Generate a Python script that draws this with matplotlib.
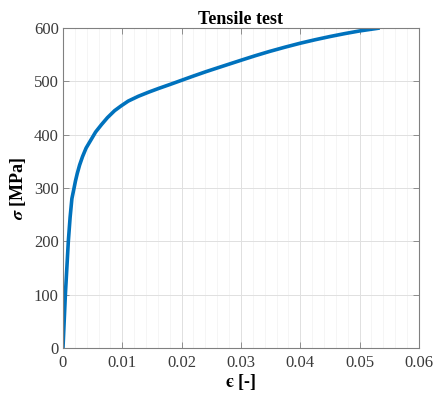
import numpy as np
import matplotlib
matplotlib.use("Agg")
import matplotlib.pyplot as plt
from matplotlib.ticker import MultipleLocator

# ---------------------------------------------------------------------
# Stress-strain curve
# ---------------------------------------------------------------------
strain = [0, 0.0004, 0.0009, 0.0012, 0.0015, 0.00185, 0.0021, 0.0024,
          0.0028, 0.0033, 0.0039, 0.0047, 0.0055, 0.0065, 0.0075, 0.0087,
          0.0098, 0.011, 0.0127, 0.0145, 0.0162, 0.018, 0.020, 0.022,
          0.0242, 0.0264, 0.0282, 0.030, 0.0324, 0.0348, 0.0374, 0.040,
          0.0425, 0.045, 0.0475, 0.050, 0.0534]
stress = [0, 100, 200, 245, 280, 299, 313, 327,
          343, 359, 375, 390, 405, 419, 432, 445,
          454, 463, 472, 480, 487, 494, 502, 510,
          518.5, 526.5, 533, 539.5, 548, 556, 564, 571.5,
          578, 584, 589.5, 594.5, 600]

x_ticks = [0, 0.01, 0.02, 0.03, 0.04, 0.05, 0.06]
x_tick_labels = ["0", "0.01", "0.02", "0.03", "0.04", "0.05", "0.06"]
y_ticks = [0, 100, 200, 300, 400, 500, 600]

plt.rcParams["font.family"] = ["Liberation Serif", "DejaVu Serif"]
plt.rcParams["mathtext.fontset"] = "stix"

fig = plt.figure(figsize=(4.35, 4.03), dpi=100)
ax = fig.add_axes([0.1448, 0.1365, 0.8182, 0.794])

ax.plot(strain, stress, color="#0072BD", linewidth=2.6,
        solid_capstyle="butt", solid_joinstyle="round")

ax.set_xlim(0, 0.06)
ax.set_ylim(0, 600)
ax.set_xticks(x_ticks)
ax.set_xticklabels(x_tick_labels)
ax.set_yticks(y_ticks)
ax.xaxis.set_minor_locator(MultipleLocator(0.002))

ax.grid(True, which="major", color="#e0e0e0", linewidth=0.7)
ax.grid(True, which="minor", axis="x", color="#f4f4f4", linewidth=0.6)
ax.set_axisbelow(True)

ax.tick_params(which="both", direction="in", top=True, right=True,
               colors="#808080", labelcolor="#3a3a3a", labelsize=12)
ax.tick_params(which="major", length=4, width=0.6)
ax.tick_params(which="minor", length=0)
ax.tick_params(axis="x", pad=5)
ax.tick_params(axis="y", pad=3)
for sp in ax.spines.values():
    sp.set_color("#808080")
    sp.set_linewidth(0.8)

ax.set_title("Tensile test", fontsize=13, fontweight="bold", pad=3)
ax.set_xlabel("$\\boldsymbol{\u03f5}$ [-]", fontsize=13,
              fontweight="bold", labelpad=1)
ax.set_ylabel(r"$\boldsymbol{\sigma}$ [MPa]", fontsize=13,
              fontweight="bold", labelpad=4)

fig.savefig("out.png", dpi=100)
